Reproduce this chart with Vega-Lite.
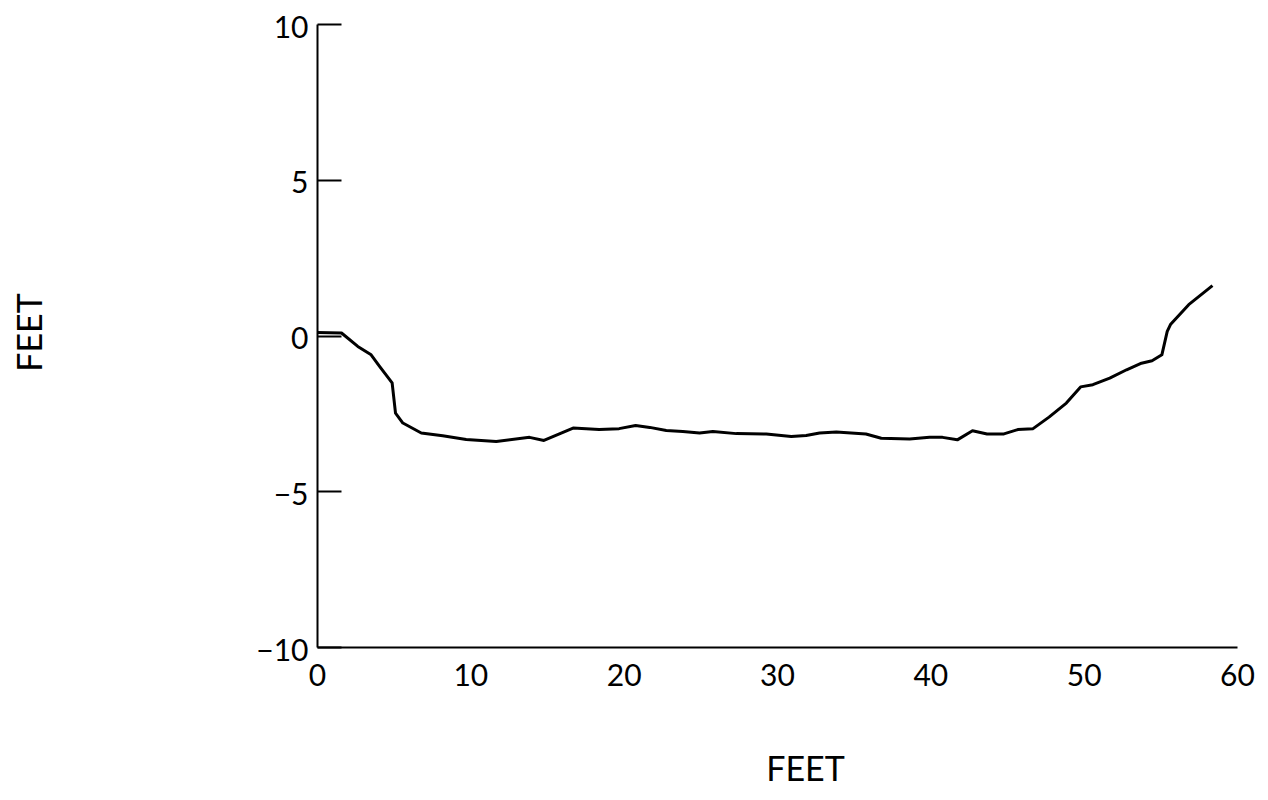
{
  "$schema": "https://vega.github.io/schema/vega-lite/v6.json",
  "autosize": {"type": "none"},
  "padding": {"left": 317, "top": 24, "right": 31, "bottom": 153},
  "width": 920,
  "height": 623,
  "background": "white",
  "config": {"view": {"stroke": null}},
  "data": {"values": [
    {"dist": 0, "elev": 0.1},
    {"dist": 1.6, "elev": 0.08},
    {"dist": 2.66, "elev": -0.35},
    {"dist": 3.53, "elev": -0.62},
    {"dist": 4.08, "elev": -0.99},
    {"dist": 4.9, "elev": -1.52},
    {"dist": 5.12, "elev": -2.49},
    {"dist": 5.6, "elev": -2.81},
    {"dist": 6.8, "elev": -3.13},
    {"dist": 8.2, "elev": -3.22},
    {"dist": 9.73, "elev": -3.34},
    {"dist": 11.69, "elev": -3.4},
    {"dist": 13.86, "elev": -3.27},
    {"dist": 14.8, "elev": -3.37},
    {"dist": 16.7, "elev": -2.97},
    {"dist": 18.4, "elev": -3.02},
    {"dist": 19.7, "elev": -2.99},
    {"dist": 20.78, "elev": -2.89},
    {"dist": 21.7, "elev": -2.95},
    {"dist": 22.78, "elev": -3.05},
    {"dist": 23.86, "elev": -3.08},
    {"dist": 24.95, "elev": -3.13},
    {"dist": 25.82, "elev": -3.08},
    {"dist": 27.35, "elev": -3.15},
    {"dist": 29.3, "elev": -3.16},
    {"dist": 30.93, "elev": -3.24},
    {"dist": 31.9, "elev": -3.21},
    {"dist": 32.78, "elev": -3.13},
    {"dist": 33.87, "elev": -3.1},
    {"dist": 35.8, "elev": -3.16},
    {"dist": 36.8, "elev": -3.3},
    {"dist": 38.65, "elev": -3.32},
    {"dist": 39.95, "elev": -3.27},
    {"dist": 40.8, "elev": -3.27},
    {"dist": 41.76, "elev": -3.35},
    {"dist": 42.75, "elev": -3.06},
    {"dist": 43.7, "elev": -3.16},
    {"dist": 44.8, "elev": -3.16},
    {"dist": 45.7, "elev": -3.02},
    {"dist": 46.7, "elev": -2.99},
    {"dist": 47.74, "elev": -2.62},
    {"dist": 48.87, "elev": -2.17},
    {"dist": 49.8, "elev": -1.65},
    {"dist": 50.6, "elev": -1.58},
    {"dist": 51.7, "elev": -1.37},
    {"dist": 52.8, "elev": -1.1},
    {"dist": 53.7, "elev": -0.9},
    {"dist": 54.46, "elev": -0.81},
    {"dist": 55.1, "elev": -0.62},
    {"dist": 55.45, "elev": 0.13},
    {"dist": 55.66, "elev": 0.35},
    {"dist": 56.85, "elev": 0.99},
    {"dist": 58.4, "elev": 1.6}
  ]},
  "mark": {"type": "line", "color": "black", "strokeWidth": 3, "strokeJoin": "round"},
  "encoding": {
    "x": {
      "field": "dist", "type": "quantitative",
      "scale": {"domain": [0, 60], "nice": false, "zero": false},
      "axis": {
        "title": "FEET", "values": [0, 10, 20, 30, 40, 50, 60],
        "grid": false, "ticks": false, "domainColor": "black", "domainWidth": 2,
        "labelFont": "Lato", "labelFontSize": 30, "labelFontWeight": 400, "labelColor": "black",
        "labelPadding": 14, "labelFlush": false,
        "titleFont": "Lato", "titleFontSize": 34, "titleFontWeight": 400, "titleColor": "black",
        "titleX": 488, "titleY": 123, "titleBaseline": "middle", "titleAlign": "center"
      }
    },
    "y": {
      "field": "elev", "type": "quantitative",
      "scale": {"domain": [-10, 10], "nice": false, "zero": false},
      "axis": {
        "title": "FEET", "values": [-10, -5, 0, 5, 10],
        "grid": false, "ticks": true, "tickSize": -24, "tickColor": "black", "tickWidth": 2,
        "domainColor": "black", "domainWidth": 2,
        "labelFont": "Lato", "labelFontSize": 30, "labelFontWeight": 400, "labelColor": "black",
        "labelPadding": 33, "labelOffset": 4, "labelFlush": false, "labelBaseline": "middle",
        "titleFont": "Lato", "titleFontSize": 34, "titleFontWeight": 400, "titleColor": "black",
        "titleAngle": -90, "titleX": -286, "titleY": 308, "titleBaseline": "middle", "titleAlign": "center"
      }
    }
  }
}
